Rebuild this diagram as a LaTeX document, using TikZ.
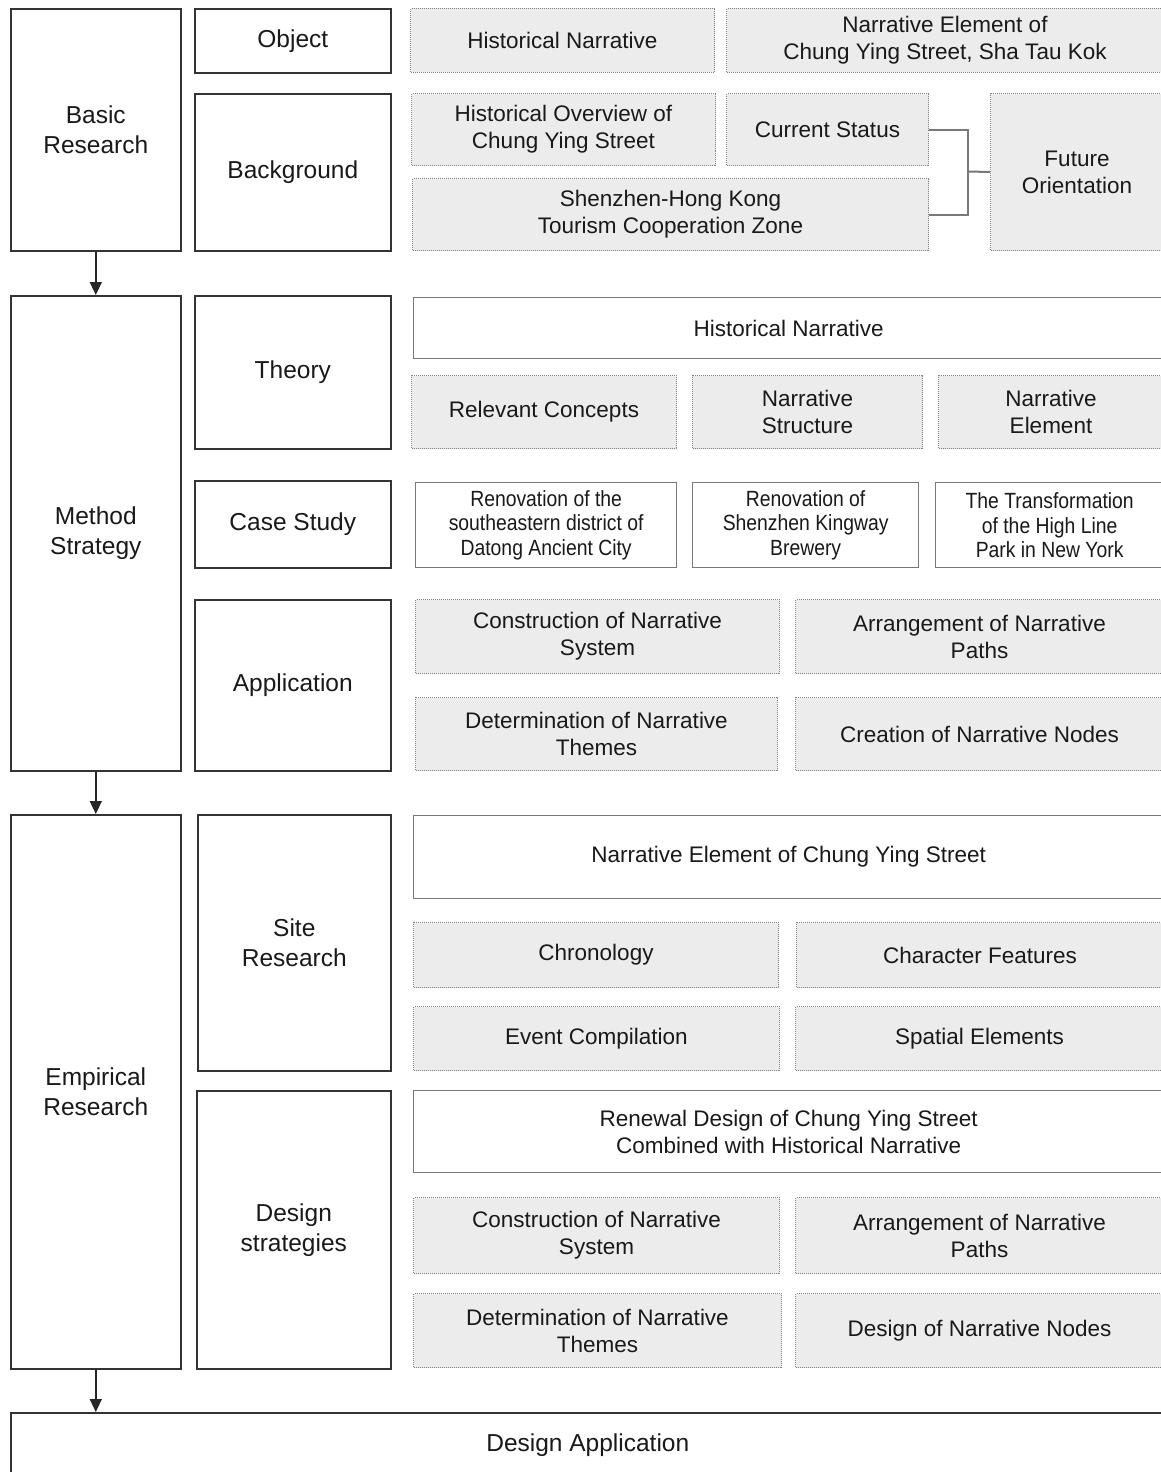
\documentclass[tikz,border=0pt]{standalone}
\usepackage{fontspec}
\setmainfont{Liberation Sans}
\newfontfamily\narrowsans[FakeStretch=0.88]{Liberation Sans}
\usetikzlibrary{arrows.meta}
\definecolor{boxgray}{RGB}{236,236,236}
\definecolor{dotgray}{RGB}{130,130,130}
\definecolor{linegray}{RGB}{120,120,120}
\begin{document}
\begin{tikzpicture}[x=1pt,y=-1pt,
  main/.style={draw=black!80,line width=1.6pt,fill=white,text=black!90,align=center,inner sep=0pt,anchor=north west,font=\fontsize{24.5}{30}\selectfont},
  item/.style={draw=dotgray,line width=1pt,dash pattern=on 1pt off 1pt,fill=boxgray,text=black!90,align=center,inner sep=0pt,anchor=north west,font=\fontsize{22.5}{27}\selectfont},
  head/.style={draw=linegray,line width=1.3pt,fill=white,text=black!90,align=center,inner sep=0pt,anchor=north west,font=\fontsize{22.5}{27}\selectfont},
  case/.style={head,font=\narrowsans\fontsize{22}{24.5}\selectfont},
  link/.style={draw=linegray,line width=2pt},
  >={Triangle[length=13pt,width=12pt]}]
\clip (0,0) rectangle (1161,1472);
\fill[white] (0,0) rectangle (1161,1472);
\node[main,minimum width=170,minimum height=242] (basic) at (10,8) {Basic\\Research};
\node[main,minimum width=170,minimum height=475] (method) at (10,295) {Method\\Strategy};
\node[main,minimum width=170,minimum height=554] (empir) at (10,814) {Empirical\\Research};
\node[main,minimum width=1154,minimum height=64] (dapp) at (10,1412) {Design Application};
\node[main,minimum width=196,minimum height=64] (obj) at (194,8) {Object};
\node[main,minimum width=196,minimum height=157] (bg) at (194,93) {Background};
\node[main,minimum width=196,minimum height=153] (theo) at (194,295) {Theory};
\node[main,minimum width=196,minimum height=87] (cstudy) at (194,480) {Case Study};
\node[main,minimum width=196,minimum height=171] (appl) at (194,599) {Application};
\node[main,minimum width=193,minimum height=256] (site) at (197,814) {Site\\Research};
\node[main,minimum width=194,minimum height=278] (dstrat) at (196,1090) {Design\\strategies};
\node[item,minimum width=304,minimum height=64] (hn) at (410,8) {Historical Narrative};
\node[item,minimum width=437,minimum height=64] (ne) at (726,8) {Narrative Element of\\Chung Ying Street, Sha Tau Kok};
\node[item,minimum width=304,minimum height=72] (ho) at (411,93) {Historical Overview of\\Chung Ying Street};
\node[item,minimum width=202,minimum height=72] (cs) at (726,93) {Current Status};
\node[item,minimum width=516,minimum height=72] (sz) at (412,178) {Shenzhen-Hong Kong\\Tourism Cooperation Zone};
\node[item,minimum width=173,minimum height=157] (fo) at (990,93) {Future\\Orientation};
\coordinate (br) at (968,171.5);
\draw[link] (cs.east) -| (br) |- (sz.east);
\draw[link] (br) -- (fo.west);
\node[head,minimum width=750,minimum height=61] (th) at (413,297) {Historical Narrative};
\node[item,minimum width=265,minimum height=73] (rc) at (411,375) {Relevant Concepts};
\node[item,minimum width=230,minimum height=73] (nstr) at (692,375) {Narrative\\Structure};
\node[item,minimum width=225,minimum height=73] (nel) at (938,375) {Narrative\\Element};
\node[case,minimum width=261,minimum height=85] (c1) at (415,482) {Renovation of the\\southeastern district of\\Datong Ancient City};
\node[case,minimum width=226,minimum height=85] (c2) at (692,482) {Renovation of\\Shenzhen Kingway\\Brewery};
\node[case,minimum width=228,minimum height=85] (c3) at (935,482) {The Transformation\\of the High Line\\Park in New York};
\node[item,minimum width=364,minimum height=74] (a1) at (415,599) {Construction of Narrative\\System};
\node[item,minimum width=368,minimum height=74] (a2) at (795,599) {Arrangement of Narrative\\Paths};
\node[item,minimum width=362,minimum height=73] (a3) at (415,697) {Determination of Narrative\\Themes};
\node[item,minimum width=368,minimum height=73] (a4) at (795,697) {Creation of Narrative Nodes};
\node[head,minimum width=750,minimum height=83] (s0) at (413,815) {Narrative Element of Chung Ying Street};
\node[item,minimum width=365,minimum height=65] (s1) at (413,922) {Chronology};
\node[item,minimum width=367,minimum height=65] (s2) at (796,922) {Character Features};
\node[item,minimum width=366,minimum height=64] (s3) at (413,1006) {Event Compilation};
\node[item,minimum width=368,minimum height=64] (s4) at (795,1006) {Spatial Elements};
\node[head,minimum width=750,minimum height=82] (d0) at (413,1090) {Renewal Design of Chung Ying Street\\Combined with Historical Narrative};
\node[item,minimum width=366,minimum height=76] (d1) at (413,1197) {Construction of Narrative\\System};
\node[item,minimum width=368,minimum height=76] (d2) at (795,1197) {Arrangement of Narrative\\Paths};
\node[item,minimum width=368,minimum height=74] (d3) at (413,1293) {Determination of Narrative\\Themes};
\node[item,minimum width=368,minimum height=74] (d4) at (795,1293) {Design of Narrative Nodes};
\draw[->,line width=1.5pt,black!85] (basic.south) -- (method.north);
\draw[->,line width=1.5pt,black!85] (method.south) -- (empir.north);
\draw[->,line width=1.5pt,black!85] (empir.south) -- (dapp.north -| empir.south);
\end{tikzpicture}
\end{document}
